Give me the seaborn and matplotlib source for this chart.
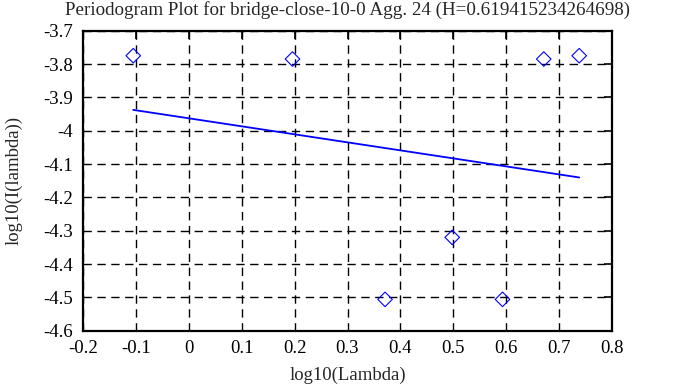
import numpy as np
import pandas as pd
import matplotlib
matplotlib.use("Agg")
import matplotlib.pyplot as plt
import seaborn as sns

# values
log_lambda = [-0.105, 0.196, 0.371, 0.498, 0.593, 0.671, 0.738]
log_i = [-3.775, -3.785, -4.506, -4.320, -4.506, -3.785, -3.775]
x_ticks = [-0.2, -0.1, 0, 0.1, 0.2, 0.3, 0.4, 0.5, 0.6, 0.7, 0.8]
y_ticks = [-3.7, -3.8, -3.9, -4, -4.1, -4.2, -4.3, -4.4, -4.5, -4.6]
title = "Periodogram Plot for bridge-close-10-0 Agg. 24 (H=0.619415234264698)"

df = pd.DataFrame({"x": log_lambda, "y": log_i})

sns.set_style("white")
plt.rcParams["font.family"] = ["Liberation Serif", "DejaVu Serif"]

fig = plt.figure(figsize=(6.95, 3.87), dpi=100)
ax = fig.add_axes([83 / 695, 1 - 330.7 / 387, 529 / 695, 300 / 387])

sns.scatterplot(data=df, x="x", y="y", marker="D", s=55, facecolors="none",
                edgecolor="#0000ff", linewidth=0.8, ax=ax, zorder=3)
# least-squares fit line, as in the original periodogram plot
sns.regplot(data=df, x="x", y="y", scatter=False, ci=None, truncate=True,
            color="#0000ff", line_kws={"linewidth": 1.3}, ax=ax)

ax.set_xlim(-0.2, 0.8)
ax.set_ylim(-4.6, -3.7)
ax.set_xticks(x_ticks)
ax.set_yticks(y_ticks)
ax.set_xticklabels([f"{v:g}" for v in x_ticks])
ax.set_yticklabels([f"{v:g}" for v in y_ticks])
ax.grid(True, color="black", linestyle=(0, (6, 4)), linewidth=1)
ax.tick_params(direction="in", length=6, width=1.2, top=True, right=True,
               labelsize=13.5, colors="black", pad=7)
for sp in ax.spines.values():
    sp.set_color("black")
    sp.set_linewidth(1.6)

ax.set_xlabel("log10(Lambda)", fontsize=13.5, labelpad=7)
ax.set_ylabel("log10(I(lambda))", fontsize=13.5, labelpad=15)
ax.set_title(title, fontsize=13.7, pad=11)

fig.savefig("out.png", dpi=100)
